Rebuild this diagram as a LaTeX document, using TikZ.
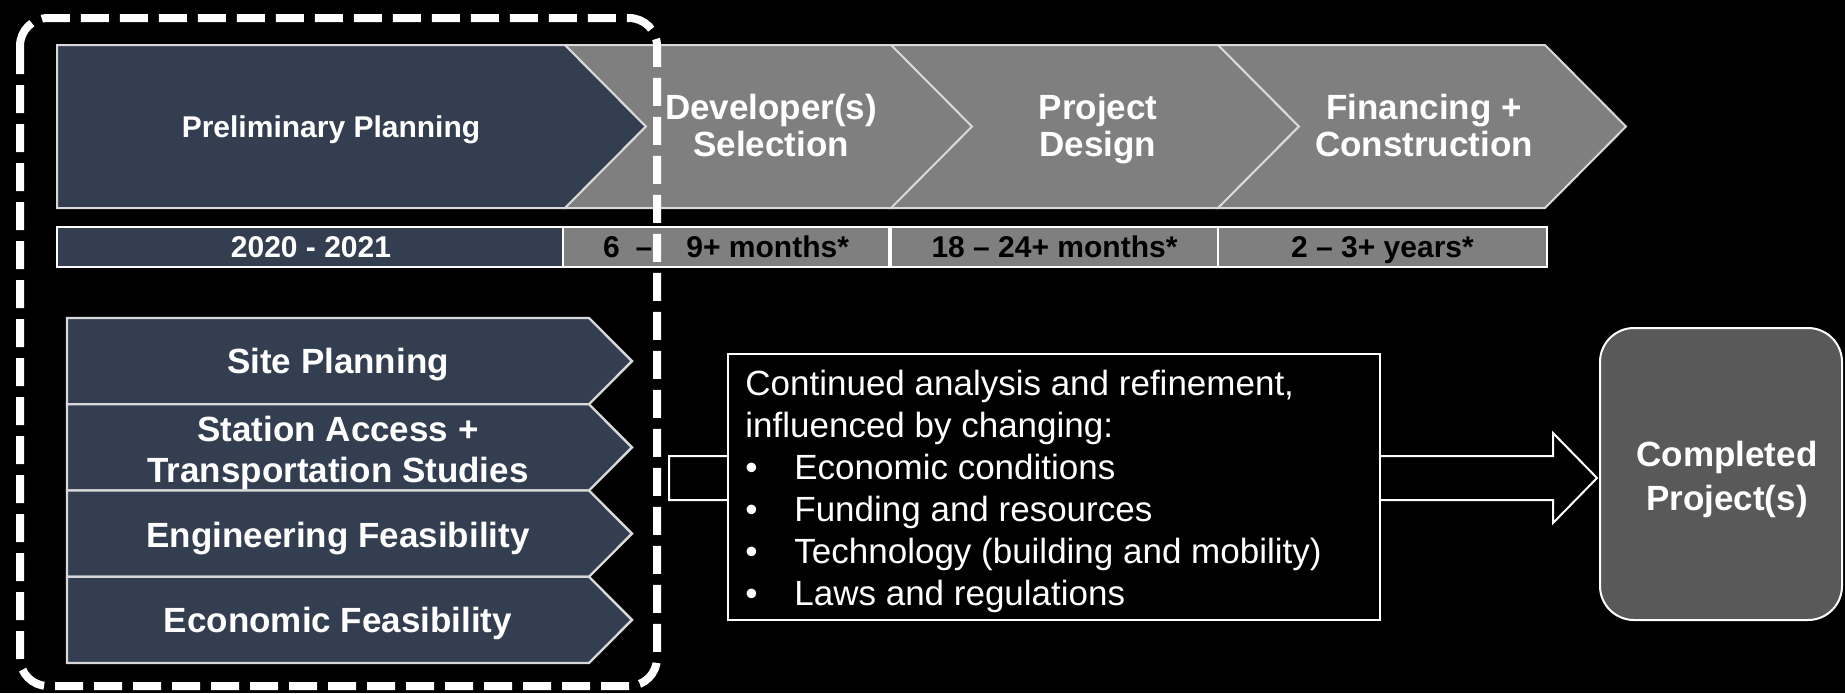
\documentclass[tikz,border=0pt]{standalone}
\usepackage{fontspec}
\setmainfont{Liberation Sans}
\usetikzlibrary{calc}

\definecolor{slate}{HTML}{333F50}
\definecolor{phasegray}{HTML}{7F7F7F}
\definecolor{donegray}{HTML}{595959}
\definecolor{edgegray}{HTML}{D9D9D9}

\tikzset{
	phase/.style={fill=phasegray, draw=edgegray, line width=1pt},
	phasetext/.style={text=white, font=\bfseries\fontsize{17.5}{18.5}\selectfont, align=center, inner sep=0pt},
	cell/.style={draw=white, line width=1pt, minimum height=20pt, inner sep=0pt, text height=10.7pt, text depth=0pt, font=\bfseries\fontsize{15}{18}\selectfont},
	task/.style={fill=slate, draw=edgegray, line width=1.2pt},
	tasktext/.style={text=white, font=\bfseries\fontsize{17.5}{20.5}\selectfont, align=center, inner sep=0pt},
	blockarrow/.style={draw=white, fill=black, line width=1pt},
	frame/.style={draw=white, line width=4pt, dash pattern=on 14pt off 5.5pt, rounded corners=14pt},
}

\begin{document}
\begin{tikzpicture}[x=0.5pt, y=-0.5pt]
		% Background and canvas:
		\fill[black] (0,0) rectangle (1845,693);
		\useasboundingbox (0,0) rectangle (1845,693);
		% Phase chevrons:
		\draw[phase, fill=slate] (57,45) -- (565,45) -- (646,126.5) -- (565,208) -- (57,208) -- cycle;
		\foreach \x in {565,891,1218}
			\draw[phase] (\x,45) -- ++(327,0) -- ++(81,81.5) -- ++(-81,81.5) -- ++(-327,0) -- ++(81,-81.5) -- cycle;
		\node[phasetext, font=\bfseries\fontsize{15}{18}\selectfont, text height=10.8pt, text depth=0pt] (prelim) at (331,127) {Preliminary Planning};
		\node[phasetext] (devsel) at (771,131) {\strut Developer(s)\\Selection\strut};
		\node[phasetext] (design) at (1098,131) {\strut Project\\Design\strut};
		\node[phasetext] (build) at (1424,131) {\strut Financing +\\Construction\strut};
		% Durations:
		\node[cell, fill=slate, text=white, minimum width=254pt] (years) at (311,247) {2020 - 2021};
		\node[cell, fill=phasegray, minimum width=163pt] (selmonths) at (726,247) {6\kern8pt–\kern17pt9+ months*};
		\node[cell, fill=phasegray, minimum width=163.5pt] (desmonths) at (1054.5,247) {18 – 24+ months*};
		\node[cell, fill=phasegray, minimum width=164.5pt] (buildyears) at (1382.5,247) {2 – 3+ years*};
		% Planning tasks:
		\foreach \y in {318,404.25,490.5,576.75}
			\draw[task] (67,\y) -- (589,\y) -- (632,\y+43.125) -- (589,\y+86.25) -- (67,\y+86.25) -- cycle;
		\node[tasktext, text height=12.6pt, text depth=0pt] (site) at (338,361) {Site Planning};
		\node[tasktext] (access) at (338,454) {\strut Station Access +\\Transportation Studies\strut};
		\node[tasktext, text height=12.6pt, text depth=0pt] (engfeas) at (338,535) {Engineering Feasibility};
		\node[tasktext, text height=12.6pt, text depth=0pt] (econfeas) at (338,620) {Economic Feasibility};
		% Outcome and arrow:
		\node[draw=white, fill=donegray, line width=1pt, rounded corners=17pt, minimum width=121pt, minimum height=146pt] (done) at (1721,474) {};
		\node[text=white, align=center, inner sep=0pt, font=\bfseries\fontsize{17.5}{22}\selectfont] (donetext) at (1727,480) {\strut Completed\\Project(s)\strut};
		\coordinate (tail) at (669,478);
		\coordinate (tip) at ([xshift=-1pt]done.west |- tail);
		\draw[blockarrow] ($(tail)+(0,-22)$) -- ($(tip)+(-44,-22)$) -- ($(tip)+(-44,-45)$) -- (tip) -- ($(tip)+(-44,45)$) -- ($(tip)+(-44,22)$) -- ($(tail)+(0,22)$) -- cycle;
		\node[draw=white, fill=black, line width=1pt, minimum width=326pt, minimum height=133pt, inner sep=0pt] (factors) at (1054,487) {};
		\node[anchor=north west, inner sep=0pt, text=white, align=left, font=\fontsize{17.5}{21}\selectfont] (factorstext) at (745,370) {Continued analysis and refinement,\\influenced by changing:\\\makebox[24.5pt][l]{•}Economic conditions\\\makebox[24.5pt][l]{•}Funding and resources\\\makebox[24.5pt][l]{•}Technology (building and mobility)\\\makebox[24.5pt][l]{•}Laws and regulations};
		% Dashed frame round the current stage:
		\draw[frame] (20,18) rectangle (657,686);
	\end{tikzpicture}
\end{document}
